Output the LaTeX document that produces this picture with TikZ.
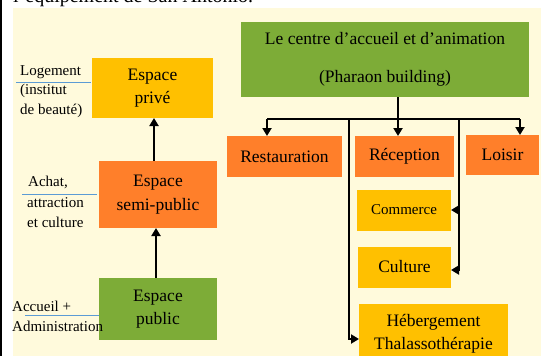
\documentclass[tikz,border=0pt]{standalone}
\usepackage{fontspec}
\setmainfont{Liberation Serif}
\usetikzlibrary{arrows.meta}
\definecolor{cream}{HTML}{FFFADC}
\definecolor{boxyellow}{HTML}{FFC000}
\definecolor{boxorange}{HTML}{FF7F2A}
\definecolor{boxgreen}{HTML}{7DAC37}
\definecolor{ruleblue}{HTML}{5B9BD5}
\tikzset{
  box/.style={inner sep=0pt, outer sep=0pt, align=center, font=\fontsize{17.5}{23.5}\selectfont},
  yel/.style={box, fill=boxyellow},
  ora/.style={box, fill=boxorange},
  gre/.style={box, fill=boxgreen},
  sidelabel/.style={anchor=north west, inner sep=0pt, align=left, font=\fontsize{15}{19.5}\selectfont},
  conn/.style={line width=2pt, draw=black},
  tip/.style={-{Triangle[width=9pt,length=8pt]}},
  uline/.style={draw=ruleblue, line width=0.9pt}
}
\begin{document}
\begin{tikzpicture}[x=1pt,y=-1pt]
\useasboundingbox (0,0) rectangle (541,356);
\begin{scope}
\clip (0,0) rectangle (541,356);
\fill[white] (0,0) rectangle (541,356);
\fill[cream] (13,8) rectangle (541,356);
\fill[black] (0,0) rectangle (2,356);
\node[anchor=base west, inner sep=0pt, font=\fontsize{20}{24}\selectfont] (caption) at (13,2.5) {l’équipement de San Antonio.};

% left column
\node[yel, minimum width=121pt, minimum height=60pt] (prive) at (152.5,88) {Espace\\privé};
\node[ora, minimum width=118pt, minimum height=67pt] (semi) at (158,194.5) {Espace\\semi-public};
\node[gre, minimum width=118pt, minimum height=62pt] (public) at (158,309) {Espace\\public};

\draw[conn, line width=2.5pt, tip] (semi.north -| 154,0) -- (prive.south -| 154,0);
\draw[conn, line width=2.5pt, tip] (public.north -| 156,0) -- (semi.south -| 156,0);

\node[sidelabel] (lbl1) at (20,65) {Logement\\(institut\\de beauté)};
\draw[uline] (16,82) -- (91,82);
\node[sidelabel, font=\fontsize{15}{20.5}\selectfont] (lbl2) at (27,176) {\hspace{1pt}Achat,\\attraction\\et culture};
\draw[uline] (22,194) -- (97,194);
\node[sidelabel] (lbl3) at (12,301) {Accueil +\\Administration};
\draw[uline] (25,315) -- (99,315);

% right side
\node[gre, minimum width=288pt, minimum height=75pt, font=\fontsize{17.5}{38}\selectfont] (centre) at (385,59.5) {Le centre d’accueil et d’animation\\(Pharaon building)};
\node[ora, minimum width=115pt, minimum height=41pt] (restau) at (284.5,156.5) {Restauration};
\node[ora, minimum width=99pt, minimum height=41pt] (recep) at (404.5,156.5) {Réception};
\node[ora, minimum width=73pt, minimum height=40pt] (loisir) at (502.5,155) {Loisir};
\node[yel, minimum width=94pt, minimum height=41pt, font=\fontsize{15}{18}\selectfont] (commerce) at (404,210) {Commerce};
\node[yel, minimum width=93pt, minimum height=41pt] (culture) at (404.5,267) {Culture};
\node[yel, minimum width=149pt, minimum height=60pt] (heberg) at (433.5,334) {Hébergement\\Thalassothérapie};

\coordinate (busL) at (267,119);
\coordinate (busR) at (520,119);
\coordinate (busA) at (349,119);
\coordinate (busB) at (459,119);

\draw[conn] (busL) -- (busR);
\draw[conn, tip] (centre.south -| 398,0) -- (recep.north -| 398,0);
\draw[conn, tip] (busL) -- (restau.north -| busL);
\draw[conn, tip] (busR) -- (loisir.north -| busR);
\draw[conn, tip] (busB) |- ([yshift=-3pt]culture.east);
\draw[conn, tip] (commerce.east -| busB) -- (commerce.east);
\draw[conn, tip] (busA) |- ([yshift=-5pt]heberg.west);
\end{scope}
\end{tikzpicture}
\end{document}
